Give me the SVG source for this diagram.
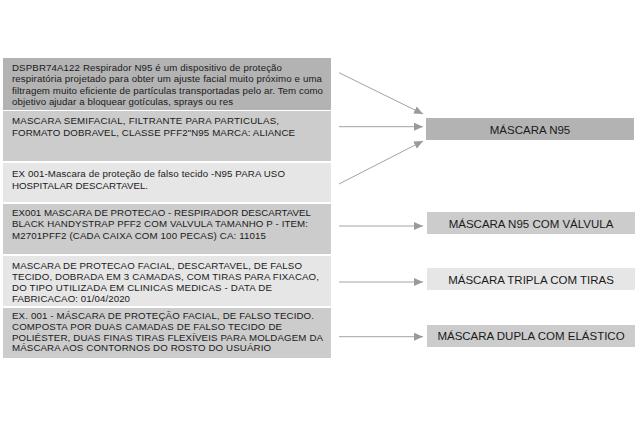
<svg xmlns="http://www.w3.org/2000/svg" width="640" height="427" viewBox="0 0 640 427">
<defs>
<style>
.t{font-family:"Liberation Sans",Arial,sans-serif;font-size:9.7px;fill:#1a1a1a}
.b{font-family:"Liberation Sans",Arial,sans-serif;font-size:11.5px;fill:#1a1a1a;text-anchor:middle}
.c{stroke:#a3a3a3;stroke-width:1;fill:none;marker-end:url(#ah)}
</style>
<marker id="ah" markerUnits="userSpaceOnUse" markerWidth="10" markerHeight="8" refX="9" refY="4" orient="auto">
<path d="M0,0 L9,4 L0,8 Z" fill="#9a9a9a"/>
</marker>
</defs>
<rect width="640" height="427" fill="#ffffff"/>
<g id="row1">
<rect x="3" y="58" width="328" height="52" fill="#b3b3b3"/>
<text class="t" x="12" y="70.5" textLength="270">DSPBR74A122 Respirador N95 é um dispositivo de proteção</text>
<text class="t" x="12" y="82" textLength="310">respiratória projetado para obter um ajuste facial muito próximo e uma</text>
<text class="t" x="12" y="93.5" textLength="311">filtragem muito eficiente de partículas transportadas pelo ar. Tem como</text>
<text class="t" x="12" y="105" textLength="221">objetivo ajudar a bloquear gotículas, sprays ou res</text>
</g>
<g id="row2">
<rect x="3" y="111" width="328" height="50" fill="#cccccc"/>
<text class="t" x="12" y="124" textLength="267">MASCARA SEMIFACIAL, FILTRANTE PARA PARTICULAS,</text>
<text class="t" x="12" y="136" textLength="283">FORMATO DOBRAVEL, CLASSE PFF2"N95 MARCA: ALIANCE</text>
</g>
<g id="row3">
<rect x="3" y="163" width="328" height="39" fill="#e6e6e6"/>
<text class="t" x="12" y="177" textLength="273">EX 001-Mascara de proteção de falso tecido -N95 PARA USO</text>
<text class="t" x="12" y="188.5" textLength="136">HOSPITALAR DESCARTAVEL.</text>
</g>
<g id="row4">
<rect x="3" y="204" width="328" height="50" fill="#cccccc"/>
<text class="t" x="12" y="215.5" textLength="299">EX001 MASCARA DE PROTECAO - RESPIRADOR DESCARTAVEL</text>
<text class="t" x="12" y="227" textLength="296">BLACK HANDYSTRAP PFF2 COM VALVULA TAMANHO P - ITEM:</text>
<text class="t" x="12" y="238.5" textLength="254">M2701PFF2 (CADA CAIXA COM 100 PECAS) CA: 11015</text>
</g>
<g id="row5">
<rect x="3" y="256" width="328" height="50" fill="#e6e6e6"/>
<text class="t" x="12" y="269" textLength="290">MASCARA DE PROTECAO FACIAL, DESCARTAVEL, DE FALSO</text>
<text class="t" x="12" y="280" textLength="307">TECIDO, DOBRADA EM 3 CAMADAS, COM TIRAS PARA FIXACAO,</text>
<text class="t" x="12" y="291" textLength="260">DO TIPO UTILIZADA EM CLINICAS MEDICAS - DATA DE</text>
<text class="t" x="12" y="302" textLength="118">FABRICACAO: 01/04/2020</text>
</g>
<g id="row6">
<rect x="3" y="308" width="328" height="50" fill="#cccccc"/>
<text class="t" x="12" y="318.5" textLength="302">EX. 001 - MÁSCARA DE PROTEÇÃO FACIAL, DE FALSO TECIDO.</text>
<text class="t" x="12" y="329.5" textLength="270">COMPOSTA POR DUAS CAMADAS DE FALSO TECIDO DE</text>
<text class="t" x="12" y="340.5" textLength="311">POLIÉSTER, DUAS FINAS TIRAS FLEXÍVEIS PARA MOLDAGEM DA</text>
<text class="t" x="12" y="351" textLength="259">MÁSCARA AOS CONTORNOS DO ROSTO DO USUÁRIO</text>
</g>
<g id="box1">
<rect x="426" y="118" width="208" height="22" fill="#b3b3b3"/>
<text class="b" x="530" y="133.5">MÁSCARA N95</text>
</g>
<g id="box2">
<rect x="427" y="212" width="208" height="22" fill="#cccccc"/>
<text class="b" x="531" y="227.5">MÁSCARA N95 COM VÁLVULA</text>
</g>
<g id="box3">
<rect x="427" y="268" width="208" height="22" fill="#e6e6e6"/>
<text class="b" x="531" y="283.5">MÁSCARA TRIPLA COM TIRAS</text>
</g>
<g id="box4">
<rect x="427" y="325" width="208" height="22" fill="#cccccc"/>
<text class="b" x="531" y="340">MÁSCARA DUPLA COM ELÁSTICO</text>
</g>
<g id="connectors">
<line class="c" x1="339" y1="72.7" x2="423" y2="114"/>
<line class="c" x1="339" y1="126.7" x2="423" y2="126.7"/>
<line class="c" x1="339" y1="184" x2="423" y2="141"/>
<line class="c" x1="339" y1="226" x2="423" y2="226"/>
<line class="c" x1="339" y1="282" x2="423" y2="282"/>
<line class="c" x1="339" y1="336.7" x2="423" y2="336.7"/>
</g>
</svg>
